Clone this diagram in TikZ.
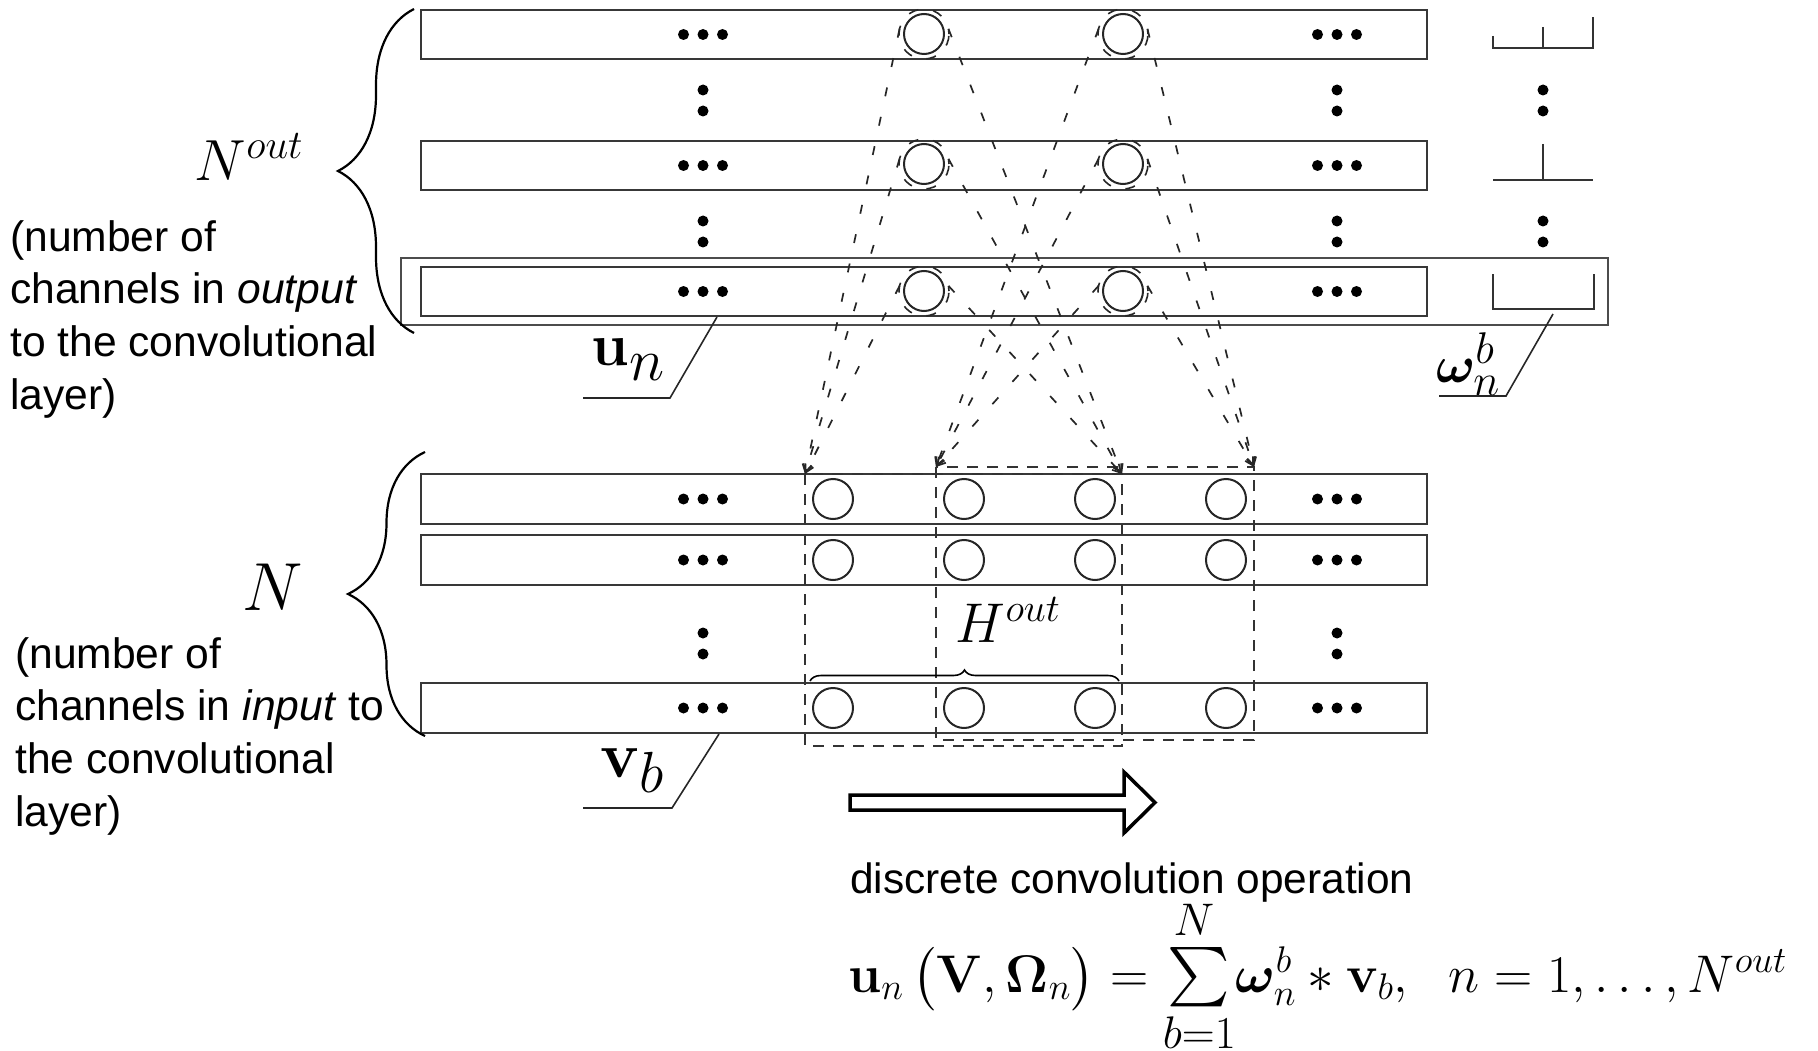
\RequirePackage{fix-cm}
\documentclass[tikz,border=0pt]{standalone}
\usepackage{amsmath}
\usepackage{bm}
\usepackage{graphicx}
\usepackage[no-math]{fontspec}
\DeclareFontShape{OMX}{cmex}{m}{n}{<->cmex10}{}
\newfontfamily\arialf{Liberation Sans}
\usetikzlibrary{arrows.meta,decorations.pathreplacing}
\newcommand{\bigsc}[1]{\scalebox{1.22}{$\scriptstyle #1$}}
\newcommand{\limsc}[1]{\scalebox{1.1}{$\scriptstyle #1$}}
\begin{document}
\begin{tikzpicture}[x=1pt,y=-1pt,
  chbox/.style={draw=black!78,line width=2pt},
  framebox/.style={draw=black!70,line width=1.6pt},
  tcirc/.style={circle,draw=black!85,line width=2pt,minimum size=40pt,inner sep=0pt,outer sep=0pt},
  tring/.style={circle,draw=black!85,line width=1.6pt,minimum size=50pt,inner sep=0pt,outer sep=0pt,dash pattern=on 10pt off 15pt,dash phase=5pt},
  win/.style={draw=black!80,line width=1.8pt,dash pattern=on 11pt off 9pt},
  conn/.style={draw=black!85,line width=1.7pt,dash pattern=on 9pt off 21pt,-{Straight Barb[length=8pt,width=9pt]}},
  lead/.style={draw=black!85,line width=1.6pt},
  brc/.style={draw=black,line width=2.2pt,decorate},
  wsym/.style={draw=black!80,line width=2pt},
  sanstext/.style={inner sep=0pt,align=left,font=\arialf\fontsize{42.6}{52.7}\selectfont},
]
\useasboundingbox (0,0) rectangle (1818,1051);

% ---------- output channels (top) ----------
\foreach \t/\b in {10/59,141/190,267/316}{\draw[chbox] (421,\t) rectangle (1427,\b);}
\draw[framebox] (401,258) rectangle (1608,325);

% ---------- input channels (bottom) ----------
\foreach \t/\b in {474/524,535/585,683/733}{\draw[chbox] (421,\t) rectangle (1427,\b);}

% horizontal ellipsis dots
\foreach \y in {34.5,165.5,291.5,499,560,708}{
  \foreach \x in {703,1337}{
    \foreach \d in {-19.5,0,19.5}{\fill (\x+\d,\y) circle (5.5);}}}
% vertical ellipsis dots
\foreach \x in {703,1337,1543}{\foreach \y in {90,111,221,242}{\fill (\x,\y) circle (5.5);}}
\foreach \x in {703,1337}{\foreach \y in {633,654}{\fill (\x,\y) circle (5.5);}}

% filter symbols
\draw[wsym] (1493,36) -- (1493,48) -- (1593,48) -- (1593,17);
\draw[wsym] (1543,27) -- (1543,48);
\draw[wsym] (1493,180) -- (1593,180);
\draw[wsym] (1543,144) -- (1543,180);
\draw[wsym] (1493,274) -- (1493,309) -- (1594,309) -- (1594,274);

% top circles
\foreach \r/\y in {1/34,2/164,3/291}{
  \node[tcirc] (tA\r) at (924,\y) {};
  \node[tring] (rA\r) at (924,\y) {};
  \node[tcirc] (tB\r) at (1123,\y) {};
  \node[tring] (rB\r) at (1123,\y) {};
}
% bottom circles
\foreach \r/\y in {1/499,2/560,4/708}{
  \foreach \c/\x in {a/833,b/964,c/1095,d/1226}{\node[tcirc] (b\c\r) at (\x,\y) {};}}

% windows
\coordinate (w1tl) at (805,474); \coordinate (w1tr) at (1122,474); \coordinate (w1br) at (1122,746);
\coordinate (w2tl) at (936,467); \coordinate (w2tr) at (1254,467); \coordinate (w2br) at (1254,740);
\draw[win] (w1tl) rectangle (w1br);
\draw[win] (w2tl) rectangle (w2br);

% connectors
\foreach \r in {1,2,3}{
  \draw[conn] (rA\r.168) -- (w1tl);
  \draw[conn] (rA\r.12) -- (w1tr);
  \draw[conn] (rB\r.168) -- (w2tl);
  \draw[conn] (rB\r.12) -- (w2tr);
}

% braces
\draw[brc,decoration={brace,amplitude=76pt}] (414,333) -- (414,9);
\draw[brc,decoration={brace,amplitude=77pt}] (425,736) -- (425,452);
\draw[brc,line width=1.6pt,decoration={brace,amplitude=11pt}] (810,681) -- (1119,681);

% labels
\node[font=\fontsize{58}{60}\selectfont] (Nout) at (249,157) {$N^{out}$};
\node[font=\fontsize{68}{70}\selectfont] (Nin) at (273,587) {$N$};
\node[font=\fontsize{56}{60}\selectfont] (Hout) at (1008,620) {$H^{out}$};

\node[sanstext,anchor=north west] (outtxt) at (10,220)
  {(number of\\channels in \textit{output}\\to the convolutional\\layer)};
\node[sanstext,anchor=north west] (intxt) at (15,637)
  {(number of\\channels in \textit{input} to\\the convolutional\\layer)};

\node[font=\fontsize{60}{62}\selectfont,inner sep=0pt] (unlab) at (628,360) {$\mathbf{u}$\raisebox{-15pt}{$n$}};
\node[font=\fontsize{65}{67}\selectfont,inner sep=0pt] (vblab) at (632,771) {$\mathbf{v}$\raisebox{-15pt}{\fontsize{58}{60}\selectfont$b$}};
\node[font=\fontsize{52}{60}\selectfont,inner sep=0pt] (wlab) at (1468,364) {$\bm{\omega}^{\bigsc{b}}_{\bigsc{n}}$};

\coordinate (unA) at (717,317); \coordinate (unB) at (670,398); \coordinate (unC) at (583,398);
\draw[lead] (unA) -- (unB) -- (unC);
\coordinate (vbA) at (719,734); \coordinate (vbB) at (672,808); \coordinate (vbC) at (583,808);
\draw[lead] (vbA) -- (vbB) -- (vbC);
\coordinate (wA) at (1553,314); \coordinate (wB) at (1506,396); \coordinate (wC) at (1439,396);
\draw[lead] (wA) -- (wB) -- (wC);

% hollow arrow
\draw[line width=3.5pt,line join=miter,draw=black] (850,795) -- (1124,795) -- (1124,772) -- (1155,802.5) -- (1124,833) -- (1124,810) -- (850,810) -- cycle;

\node[anchor=base west,inner sep=0pt,font=\arialf\fontsize{42.4}{50}\selectfont] (optxt) at (850,893) {discrete convolution operation};

\node[anchor=base west,inner sep=0pt,font=\fontsize{53}{60}\selectfont] (eq) at (848,992)
  {$\mathbf{u}_n\,\bigl(\mathbf{V},\bm{\Omega}_n\bigr)=\scalebox{1.12}{$\displaystyle\mathop{\textstyle\sum}\limits_{\limsc{b=1}}^{\limsc{N}}$}\bm{\omega}_n^b*\mathbf{v}_b,\ \ n=1,\ldots,N^{out}$};
\end{tikzpicture}
\end{document}
